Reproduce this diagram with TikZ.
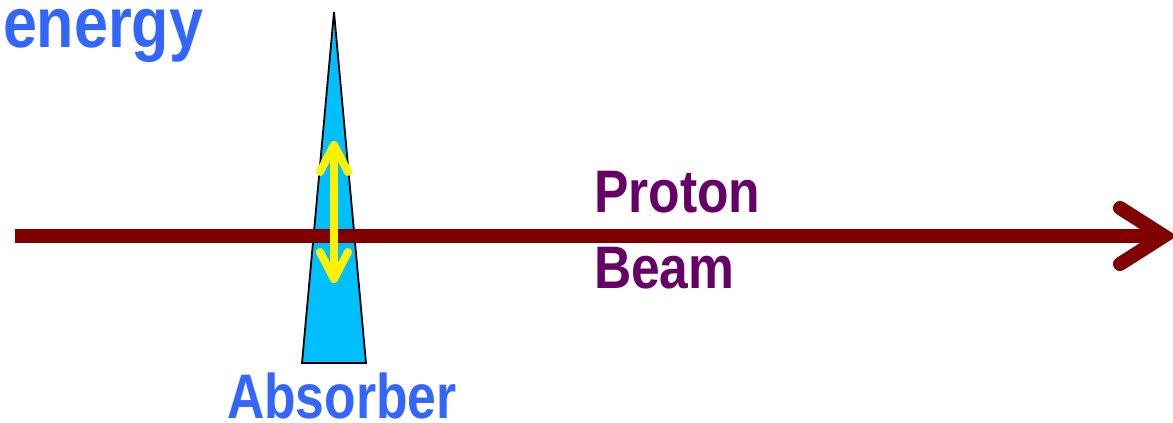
\documentclass[tikz,border=0pt]{standalone}
\usepackage{fontspec}
\newfontfamily\condsans[FakeStretch=0.86]{Liberation Sans}
\newfontfamily\condsansb[FakeStretch=0.82]{Liberation Sans}
\definecolor{lblblue}{RGB}{51,102,255}
\definecolor{lblpurple}{RGB}{102,0,102}
\definecolor{beamred}{RGB}{128,0,0}
\definecolor{absblue}{RGB}{0,191,255}
\begin{document}
\begin{tikzpicture}[x=1pt,y=-1pt,
  lbl/.style={anchor=base west,inner sep=0pt,outer sep=0pt},
  beamline/.style={draw=beamred,line width=14pt},
  headline/.style={draw=beamred,line width=14pt,line cap=round},
  yarrow/.style={draw=yellow,line width=8pt,line cap=round,line join=round}]
\useasboundingbox (0,0) rectangle (1173,423);
% absorber wedge
\coordinate (apex) at (334,12);
\coordinate (bl) at (302,363);
\coordinate (br) at (366,363);
\filldraw[fill=absblue,draw=black,line width=1.8pt,line join=miter] (apex) -- (br) -- (bl) -- cycle;
% beam
\coordinate (bstart) at (15,236);
\coordinate (btip) at (1164,236);
\coordinate (hu) at (1120,208);
\coordinate (hl) at (1120,264);
\draw[beamline] (bstart) -- (btip);
\draw[headline] (hu) -- (btip) -- (hl);
% yellow double arrow
\coordinate (yt) at (334,145);
\coordinate (yb) at (334,279);
\coordinate (ytl) at (320,172);
\coordinate (ytr) at (348,172);
\coordinate (ybl) at (320,252);
\coordinate (ybr) at (348,252);
\draw[yarrow] (yt) -- (yb);
\draw[yarrow] (ytl) -- (yt) -- (ytr);
\draw[yarrow] (ybl) -- (yb) -- (ybr);
% labels
\node[lbl,text=lblblue] (energy) at (3,47) {\condsans\bfseries\fontsize{71}{71}\selectfont energy};
\node[lbl,text=lblblue] (absorber) at (227,418) {\condsansb\bfseries\fontsize{63}{63}\selectfont Absorber};
\node[lbl,text=lblpurple] (proton) at (594,212) {\condsans\bfseries\fontsize{60}{60}\selectfont Proton};
\node[lbl,text=lblpurple] (beam) at (594,288) {\condsans\bfseries\fontsize{60}{60}\selectfont Beam};
\end{tikzpicture}
\end{document}
